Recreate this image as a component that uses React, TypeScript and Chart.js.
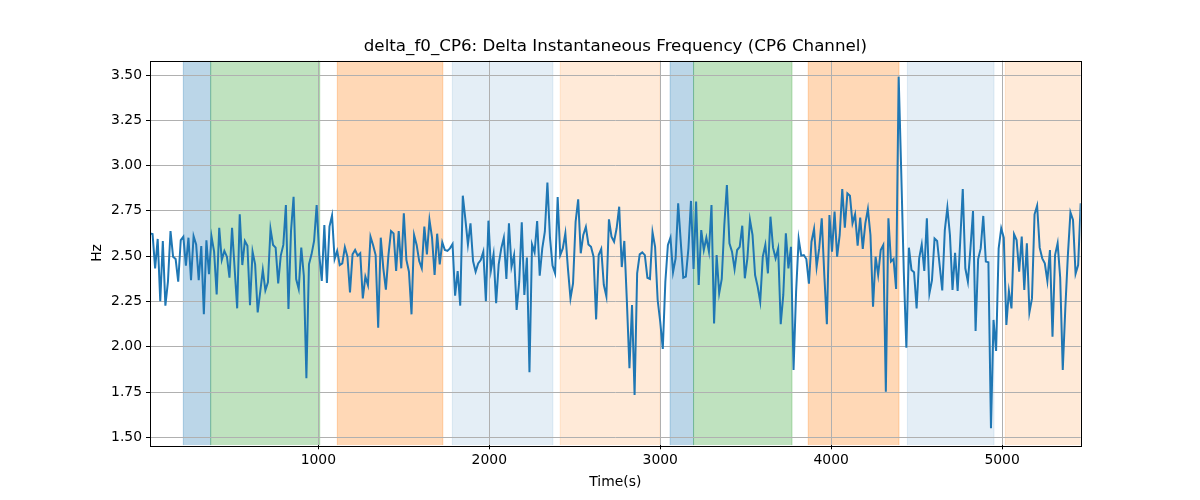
import React, { useEffect, useRef } from "react";
import { Chart, registerables } from "chart.js";

Chart.register(...registerables);

const TITLE = "delta_f0_CP6: Delta Instantaneous Frequency (CP6 Channel)";
const X_LABEL = "Time(s)";
const Y_LABEL = "Hz";

const X_MIN = 15;
const X_MAX = 5460;
const Y_MIN = 1.456;
const Y_MAX = 3.579;
const X_TICKS = [1000, 2000, 3000, 4000, 5000];
const Y_TICKS = [1.5, 1.75, 2.0, 2.25, 2.5, 2.75, 3.0, 3.25, 3.5];

// sampling grid of the signal (seconds)
const T_START = 15;
const T_STEP = 15;

const SEG1 = [2.626, 2.622, 2.433, 2.595, 2.252, 2.584, 2.227, 2.359, 2.639, 2.497, 2.484, 2.359, 2.589, 2.608, 2.448, 2.602, 2.367, 2.611, 2.565, 2.367, 2.556, 2.179, 2.587, 2.4, 2.608, 2.525, 2.289, 2.657, 2.479, 2.529, 2.497, 2.381, 2.657, 2.433, 2.212, 2.731, 2.451, 2.584, 2.558, 2.23, 2.525, 2.455, 2.19, 2.304, 2.424, 2.311, 2.356, 2.65, 2.562, 2.547, 2.35, 2.503, 2.562, 2.782, 2.208, 2.639, 2.828, 2.374, 2.319, 2.547, 2.392, 1.826, 2.455, 2.51, 2.584, 2.782, 2.51, 2.363, 2.672];
const SEG2 = [2.352, 2.663, 2.724, 2.484, 2.529, 2.451, 2.46, 2.549, 2.497, 2.3, 2.51, 2.534, 2.503, 2.516, 2.267, 2.387, 2.341, 2.608, 2.562, 2.506, 2.105, 2.602, 2.433, 2.315, 2.506, 2.639, 2.626, 2.418, 2.639, 2.433, 2.736, 2.479, 2.414, 2.179, 2.617, 2.562, 2.473, 2.433, 2.663, 2.51, 2.7, 2.602, 2.396, 2.624, 2.455, 2.576, 2.534, 2.529, 2.543, 2.567, 2.282, 2.418, 2.227, 2.834, 2.705, 2.565, 2.681, 2.473, 2.414, 2.46, 2.479, 2.525, 2.252, 2.696, 2.424, 2.51];
const SEG3 = [2.24, 2.455, 2.543, 2.602, 2.374, 2.681, 2.442, 2.506, 2.203, 2.359, 2.687, 2.286, 2.492, 1.859, 2.565, 2.521, 2.694, 2.392, 2.543, 2.635, 2.906, 2.602, 2.448, 2.405, 2.827, 2.506, 2.543, 2.626, 2.433, 2.267, 2.35, 2.69, 2.814, 2.516, 2.617, 2.661, 2.565, 2.552, 2.497, 2.151, 2.506, 2.54, 2.341, 2.278, 2.703, 2.608, 2.58, 2.654, 2.773, 2.44, 2.584, 2.249, 1.881, 2.23, 1.734, 2.405, 2.51, 2.521, 2.506, 2.381, 2.374, 2.632, 2.552, 2.258, 2.138, 1.988];
const SEG4 = [2.359, 2.562, 2.602, 2.411, 2.488, 2.792, 2.58, 2.381, 2.387, 2.543, 2.805, 2.429, 2.801, 2.341, 2.644, 2.534, 2.602, 2.525, 2.782, 2.129, 2.506, 2.295, 2.374, 2.672, 2.893, 2.571, 2.525, 2.429, 2.534, 2.552, 2.668, 2.378, 2.488, 2.7, 2.617, 2.396, 2.332, 2.249, 2.497, 2.562, 2.405, 2.718, 2.547, 2.488, 2.543, 2.124, 2.286, 2.626, 2.433, 2.552, 1.872, 2.304, 2.595, 2.503, 2.506, 2.484, 2.348, 2.58, 2.65, 2.44, 2.543, 2.709, 2.396, 2.124, 2.727, 2.525, 2.746];
const SEG5 = [2.497, 2.617, 2.871, 2.657, 2.847, 2.834, 2.681, 2.731, 2.558, 2.713, 2.54, 2.681, 2.76, 2.617, 2.221, 2.497, 2.396, 2.534, 2.562, 1.752, 2.709, 2.47, 2.484, 2.319, 3.491, 2.966, 2.414, 1.995, 2.547, 2.424, 2.411, 2.212, 2.488, 2.565, 2.418, 2.709, 2.295, 2.368, 2.598, 2.584, 2.448, 2.311, 2.644, 2.768, 2.617, 2.313, 2.519, 2.308, 2.58, 2.871, 2.433, 2.359, 2.543, 2.749, 2.087, 2.484, 2.543, 2.722, 2.47, 2.466, 1.55, 2.148, 1.977, 2.543, 2.654, 2.602];
const SEG6 = [2.12, 2.308, 2.212, 2.621, 2.589, 2.414, 2.608, 2.313, 2.571, 2.19, 2.267, 2.731, 2.779, 2.547, 2.488, 2.46, 2.363, 2.534, 2.056, 2.506, 2.571, 2.381, 1.872, 2.212, 2.506, 2.742, 2.7, 2.403, 2.451, 2.792];

const VALUES = [...SEG1, ...SEG2, ...SEG3, ...SEG4, ...SEG5, ...SEG6];

// shaded intervals
const SPAN_START = [210, 370, 1111, 1784, 2415, 3058, 3195, 3866, 4446, 5019];
const SPAN_END = [370, 1008, 1728, 2372, 3000, 3195, 3771, 4397, 4953, 5470];
const SPAN_KIND = ["blue", "green", "orange", "lightblue", "lightorange", "blue", "green", "orange", "lightblue", "lightorange"];

const SPAN_COLOR: Record<string, string> = {
  blue: "rgba(31,119,180,0.3)",
  green: "rgba(44,160,44,0.3)",
  orange: "rgba(255,127,14,0.3)",
  lightblue: "rgba(31,119,180,0.12)",
  lightorange: "rgba(255,127,14,0.16)",
};

const FONT = '"DejaVu Sans", "Liberation Sans", sans-serif';

const decor = {
  id: "decor",
  beforeDraw(chart: any) {
    const { ctx, chartArea: a, scales } = chart;
    const x = scales.x;
    ctx.save();
    ctx.beginPath();
    ctx.rect(a.left, a.top, a.right - a.left, a.bottom - a.top);
    ctx.clip();
    SPAN_START.forEach((s, i) => {
      const x0 = x.getPixelForValue(s);
      const x1 = x.getPixelForValue(SPAN_END[i]);
      const c = SPAN_COLOR[SPAN_KIND[i]];
      ctx.fillStyle = c;
      ctx.fillRect(x0, a.top, x1 - x0, a.bottom - a.top);
      ctx.strokeStyle = c;
      ctx.lineWidth = 1;
      ctx.beginPath();
      ctx.moveTo(x0, a.top);
      ctx.lineTo(x0, a.bottom);
      ctx.moveTo(x1, a.top);
      ctx.lineTo(x1, a.bottom);
      ctx.stroke();
    });
    ctx.restore();
  },
  afterDraw(chart: any) {
    const { ctx, chartArea: a } = chart;
    ctx.save();
    ctx.strokeStyle = "#000";
    ctx.lineWidth = 1;
    ctx.strokeRect(Math.round(a.left) + 0.5, Math.round(a.top) + 0.5, Math.round(a.right - a.left), Math.round(a.bottom - a.top));
    ctx.fillStyle = "#000";
    ctx.textAlign = "center";
    ctx.textBaseline = "alphabetic";
    ctx.font = `16.7px ${FONT}`;
    ctx.fillText(TITLE, (a.left + a.right) / 2, a.top - 9.8);
    ctx.font = `13.9px ${FONT}`;
    ctx.fillText(X_LABEL, (a.left + a.right) / 2, a.bottom + 40.4);
    ctx.translate(100.7, (a.top + a.bottom) / 2);
    ctx.rotate(-Math.PI / 2);
    ctx.fillText(Y_LABEL, 0, 0);
    ctx.restore();
  },
};

export default function App() {
  const ref = useRef<HTMLCanvasElement | null>(null);
  useEffect(() => {
    document.body.style.margin = "0";
    if (!ref.current) return;
    const chart = new Chart(ref.current, {
      type: "line",
      data: {
        datasets: [
          {
            data: VALUES.map((v, i) => ({ x: T_START + i * T_STEP, y: v })),
            borderColor: "#1f77b4",
            borderWidth: 2,
            pointRadius: 0,
            tension: 0,
            fill: false,
          },
        ],
      },
      options: {
        animation: false,
        responsive: false,
        devicePixelRatio: 1,
        layout: { padding: { left: 0, top: 60.7, right: 119.3, bottom: 0 } },
        plugins: { legend: { display: false }, tooltip: { enabled: false }, title: { display: false } },
        scales: {
          x: {
            type: "linear",
            min: X_MIN,
            max: X_MAX,
            afterBuildTicks: (s: any) => {
              s.ticks = X_TICKS.map((v) => ({ value: v }));
            },
            afterFit: (s: any) => {
              s.height = 54.7;
            },
            grid: { color: "#b0b0b0", lineWidth: 1, tickColor: "#000", tickLength: 4 },
            border: { display: false },
            ticks: {
              color: "#000",
              font: { family: FONT, size: 13.9 },
              padding: 3,
              maxRotation: 0,
              autoSkip: false,
              callback: (v: any) => String(v),
            },
          },
          y: {
            type: "linear",
            min: Y_MIN,
            max: Y_MAX,
            afterBuildTicks: (s: any) => {
              s.ticks = Y_TICKS.map((v) => ({ value: v }));
            },
            afterFit: (s: any) => {
              s.width = 150;
            },
            grid: { color: "#b0b0b0", lineWidth: 1, tickColor: "#000", tickLength: 4 },
            border: { display: false },
            ticks: {
              color: "#000",
              font: { family: FONT, size: 13.9 },
              padding: 4,
              autoSkip: false,
              callback: (v: any) => Number(v).toFixed(2),
            },
          },
        },
      },
      plugins: [decor],
    });
    return () => chart.destroy();
  }, []);
  return (
    <div style={{ width: 1200, height: 500, background: "#fff" }}>
      <canvas ref={ref} width={1200} height={500} />
    </div>
  );
}
